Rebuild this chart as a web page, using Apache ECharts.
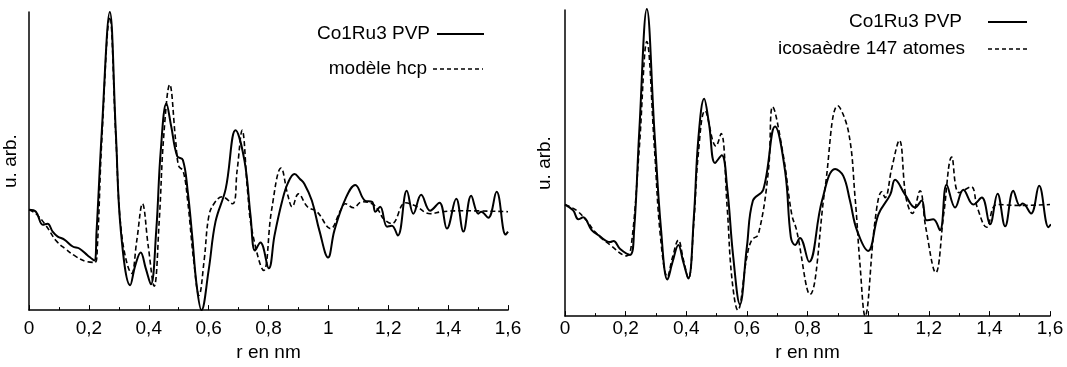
<!DOCTYPE html>
<html><head><meta charset="utf-8">
<script src="https://cdn.jsdelivr.net/npm/echarts@6/dist/echarts.min.js"></script>
<style>html,body{margin:0;padding:0;background:#fff}#c{width:1067px;height:367px}</style>
</head><body><div id="c"></div>
<script>
// x ticks
const xTicks = [0, 0.2, 0.4, 0.6, 0.8, 1, 1.2, 1.4, 1.6];
const legendLeft = ["Co1Ru3 PVP", "modèle hcp"];
const legendRight = ["Co1Ru3 PVP", "icosaèdre 147 atomes"];
const xName = "r en nm";
const yName = "u. arb.";

// Left panel: experimental Co1Ru3 PVP (r in nm, arbitrary units)
const leftExp = [[0,101],[0.023,99],[0.046,86],[0.062,87],[0.079,79],[0.096,74],[0.118,71],[0.146,64],[0.168,62],[0.196,55],[0.218,50],
[0.2256,79],[0.243,179],[0.27,300],[0.29,179],[0.307,79],[0.338,25],[0.355,45],[0.373,58],[0.39,42],[0.407,26],[0.425,80],[0.44,160],
[0.459,208],[0.475,185],[0.495,155],[0.514,151],[0.53,120],[0.545,75],[0.56,25],[0.576,0],[0.6,40],[0.623,89],[0.657,122],[0.69,181],
[0.72,150],[0.74,95],[0.755,60],[0.773,68],[0.801,42],[0.82,75],[0.845,109],[0.865,128],[0.887,137],[0.905,132],[0.92,127],[0.945,110],
[0.97,80],[0.999,53],[1.02,80],[1.057,112],[1.09,126],[1.123,110],[1.146,109],[1.157,99],[1.173,104],[1.196,84],[1.212,85],[1.232,75],
[1.262,120],[1.284,97],[1.31,116],[1.34,100],[1.371,108],[1.396,82],[1.427,112],[1.451,79],[1.477,115],[1.501,97],[1.51,99],[1.534,93],
[1.562,119],[1.592,76],[1.6,79]];
// Left panel: hcp model
const leftHcp = [[0,101],[0.023,97],[0.057,85],[0.09,70],[0.12,62],[0.156,54],[0.19,49],[0.22,48],[0.228,62],[0.243,170],[0.27,295],
[0.29,175],[0.31,75],[0.343,37],[0.36,70],[0.379,107],[0.398,65],[0.418,24],[0.435,90],[0.45,175],[0.47,227],[0.49,170],[0.5,145],
[0.515,140],[0.53,110],[0.55,50],[0.568,15],[0.585,50],[0.601,95],[0.62,108],[0.645,114],[0.68,107],[0.695,140],[0.712,181],[0.73,120],
[0.745,80],[0.784,40],[0.81,100],[0.842,143],[0.865,115],[0.879,104],[0.9,117],[0.93,104],[0.962,99],[1.007,82],[1.04,100],[1.057,107],
[1.084,103],[1.112,109],[1.146,107],[1.168,100],[1.184,92],[1.212,87],[1.257,108],[1.29,105],[1.34,97],[1.379,99],[1.45,100],[1.6,99]];

// Right panel: experimental Co1Ru3 PVP
const rightExp = [[0,113],[0.027,107],[0.044,98],[0.06,100],[0.088,87],[0.11,82],[0.149,75],[0.16,76],[0.182,68],[0.2145,62],
[0.228,87],[0.245,187],[0.27,311],[0.295,187],[0.317,87],[0.338,37],[0.355,55],[0.374,72],[0.39,55],[0.407,38],[0.425,100],[0.44,180],
[0.459,220],[0.475,195],[0.495,155],[0.517,163],[0.535,130],[0.555,60],[0.577,12],[0.6,70],[0.62,117],[0.654,128],[0.693,192],
[0.726,147],[0.745,80],[0.759,72],[0.775,79],[0.805,55],[0.848,117],[0.891,149],[0.918,142],[0.94,117],[0.963,87],[1.0,66],[1.034,103],
[1.073,123],[1.089,138],[1.122,123],[1.155,110],[1.177,117],[1.193,97],[1.215,98],[1.237,87],[1.259,133],[1.287,110],[1.314,128],
[1.347,113],[1.375,120],[1.402,93],[1.427,124],[1.452,91],[1.479,127],[1.5,112],[1.51,114],[1.5375,104],[1.564,132],[1.595,90],[1.603,93]];
// Right panel: icosahedron 147 atoms
const rightIco = [[0,113],[0.038,107],[0.07,97],[0.1,85],[0.149,72],[0.2035,61],[0.22,75],[0.245,170],[0.27,278],[0.295,170],[0.315,80],
[0.338,40],[0.355,60],[0.374,77],[0.39,58],[0.407,38],[0.425,95],[0.44,165],[0.462,208],[0.498,172],[0.515,185],[0.535,110],[0.55,40],
[0.57,6],[0.6,60],[0.616,77],[0.638,83],[0.671,147],[0.685,212],[0.72,163],[0.748,103],[0.764,87],[0.808,22],[0.858,130],[0.9,213],
[0.935,187],[0.957,120],[0.973,53],[0.99,0],[1.023,97],[1.045,126],[1.056,120],[1.078,150],[1.103,178],[1.125,120],[1.146,104],
[1.171,127],[1.19,90],[1.223,44],[1.25,105],[1.276,161],[1.3,125],[1.34,131],[1.36,110],[1.391,90],[1.424,113],[1.5,112],[1.6,113]];

const FONT = '"Liberation Sans", Arial, Helvetica, sans-serif';
const chart = echarts.init(document.getElementById('c'), null, {renderer: 'canvas'});

function xAxis(grid, gap, margin) {
  return {
    type: 'value', gridIndex: grid, min: 0, max: 1.6, interval: 0.2,
    name: xName, nameLocation: 'middle', nameGap: gap,
    nameTextStyle: {fontFamily: FONT, fontSize: 19, color: '#000'},
    axisLine: {lineStyle: {color: '#000', width: 1.5}},
    axisTick: {inside: true, length: 5, lineStyle: {color: '#000'}},
    minorTick: {show: true, splitNumber: 2, length: 3, lineStyle: {color: '#000'}},
    splitLine: {show: false},
    axisLabel: {margin: margin, fontFamily: FONT, fontSize: 19, color: '#000',
      formatter: v => { const t = xTicks.find(k => Math.abs(k - v) < 1e-6); return String(+(t ?? v).toFixed(1)).replace('.', ','); }}
  };
}
function yAxis(grid, max, gap) {
  return {
    type: 'value', gridIndex: grid, min: 0, max: max,
    name: yName, nameLocation: 'middle', nameGap: gap, nameRotate: 90,
    nameTextStyle: {fontFamily: FONT, fontSize: 19, color: '#000'},
    axisLine: {show: true, lineStyle: {color: '#000', width: 1.5}},
    axisTick: {show: false}, axisLabel: {show: false}, splitLine: {show: false}
  };
}
function lineSeries(name, data, xi, dashed) {
  return {
    type: 'line', name: name, data: data, xAxisIndex: xi, yAxisIndex: xi,
    smooth: 0.4, symbol: 'none', clip: false,
    lineStyle: dashed ? {color: '#000', width: 1.6, type: [5, 3]} : {color: '#000', width: 2}
  };
}
function legendItems(textRight, lineX1, lineX2, y, label, dashed) {
  return [
    {type: 'text', style: {text: label, x: textRight, y: y, textAlign: 'right', textVerticalAlign: 'middle',
      font: '19px ' + FONT, fill: '#000'}},
    {type: 'line', shape: {x1: lineX1, y1: y, x2: lineX2, y2: y},
      style: {stroke: '#000', lineWidth: dashed ? 1.4 : 2, lineDash: dashed ? [4, 3] : null}}
  ];
}

chart.setOption({
  animation: false,
  backgroundColor: '#fff',
  grid: [
    {left: 28, right: 559, top: 12, bottom: 55},
    {left: 565, right: 17, top: 10, bottom: 47}
  ],
  xAxis: [xAxis(0, 31, 9), xAxis(1, 21, 3)],
  yAxis: [yAxis(0, 300, 9), yAxis(1, 310, 11)],
  series: [
    lineSeries(legendLeft[0], leftExp, 0, false),
    lineSeries(legendLeft[1], leftHcp, 0, true),
    lineSeries(legendRight[0], rightExp, 1, false),
    lineSeries(legendRight[1], rightIco, 1, true)
  ],
  graphic: [].concat(
    legendItems(430, 437, 484, 34, legendLeft[0], false),
    legendItems(427, 433, 483, 69, legendLeft[1], true),
    legendItems(962, 988, 1027, 22, legendRight[0], false),
    legendItems(965, 988, 1027, 49, legendRight[1], true)
  )
});
</script></body></html>
